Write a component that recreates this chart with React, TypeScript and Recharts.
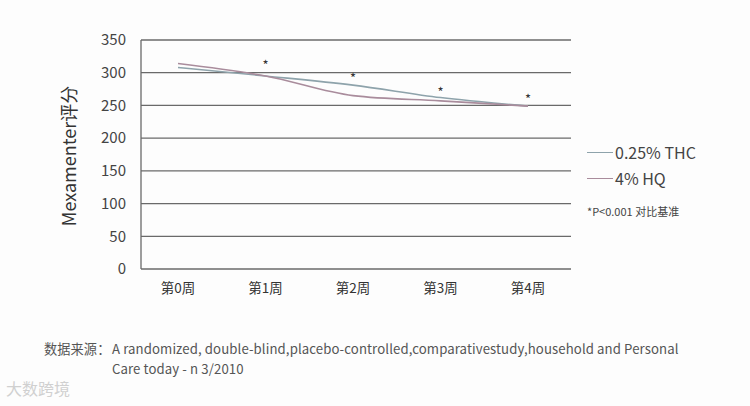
import { CartesianGrid, Line, LineChart, XAxis, YAxis } from "recharts";

const weeks = ["第0周", "第1周", "第2周", "第3周", "第4周"];
const thc = [308, 295, 281, 262, 249];
const hq = [314, 295, 265, 257, 249];
// height where the significance asterisk sits for each week (none at week 0)
const starLevels = [null, 314, 294, 272, 262];
const yTicks = [0, 50, 100, 150, 200, 250, 300, 350];

const data = weeks.map((week, i) => ({
  week,
  thc: thc[i],
  hq: hq[i],
  star: starLevels[i],
}));

const FONT = '"Noto Sans CJK SC", "Noto Sans", sans-serif';

const StarDot = (props: any) => {
  const { cx, cy, value } = props;
  if (value == null || cx == null || cy == null) return null;
  return (
    <text x={cx} y={cy + 6} textAnchor="middle" fontSize={13} fill="#333" fontFamily={FONT}>
      *
    </text>
  );
};

const LegendBox = () => (
  <div style={{ fontFamily: FONT, color: "#444" }}>
    <div style={{ display: "flex", alignItems: "center", height: 26, fontSize: 16 }}>
      <span style={{ width: 26, height: 0, borderTop: "1.5px solid #8ea3ab", marginRight: 2 }} />
      0.25% THC
    </div>
    <div style={{ display: "flex", alignItems: "center", height: 26, fontSize: 16 }}>
      <span style={{ width: 26, height: 0, borderTop: "1.5px solid #a98c9c", marginRight: 2 }} />
      4% HQ
    </div>
    <div style={{ fontSize: 11, marginTop: 12 }}>*P&lt;0.001 对比基准</div>
  </div>
);

const footStyle = {
  position: "absolute" as const,
  fontSize: 13.2,
  letterSpacing: 0.1,
  lineHeight: "15px",
  color: "#555",
  fontFamily: FONT,
  whiteSpace: "nowrap" as const,
};

export default function App() {
  return (
    <div style={{ position: "absolute", left: 0, top: 0, width: 750, height: 406, background: "#fdfdfd" }}>
      <LineChart
        width={750}
        height={406}
        data={data}
        margin={{ top: 40, right: 179, bottom: 117, left: 0 }}
      >
        <CartesianGrid vertical={false} stroke="#6a6a6a" strokeWidth={1.3} />
        <XAxis
          dataKey="week"
          axisLine={false}
          tickLine={false}
          padding={{ left: 37, right: 43 }}
          height={20}
          tick={{ fontSize: 13.5, fill: "#333", fontFamily: FONT }}
          dy={6}
        />
        <YAxis
          domain={[0, 350]}
          ticks={yTicks}
          width={141}
          tickLine={false}
          axisLine={{ stroke: "#6a6a6a", strokeWidth: 1.3 }}
          tick={{ fontSize: 15, fill: "#444", fontFamily: FONT }}
          dx={-7}
        />
        <Line
          dataKey="thc"
          name="0.25% THC"
          type="monotone"
          stroke="#8ea3ab"
          strokeWidth={1.6}
          dot={false}
          isAnimationActive={false}
        />
        <Line
          dataKey="hq"
          name="4% HQ"
          type="monotone"
          stroke="#a98c9c"
          strokeWidth={1.6}
          dot={false}
          isAnimationActive={false}
        />
        <Line
          dataKey="star"
          stroke="none"
          dot={<StarDot />}
          activeDot={false}
          legendType="none"
          isAnimationActive={false}
        />
      </LineChart>
      <div
        style={{
          position: "absolute",
          left: 68,
          top: 156,
          transform: "translate(-50%, -50%) rotate(-90deg)",
          whiteSpace: "nowrap",
          fontSize: 18,
          color: "#333",
          fontFamily: FONT,
        }}
      >
        Mexamenter评分
      </div>
      <div style={{ position: "absolute", left: 587, top: 139, width: 160 }}>
        <LegendBox />
      </div>
      <div style={{ ...footStyle, left: 44, top: 341 }}>数据来源：</div>
      <div style={{ ...footStyle, left: 112, top: 341 }}>
        A randomized, double-blind,placebo-controlled,comparativestudy,household and Personal
      </div>
      <div style={{ ...footStyle, left: 112, top: 361 }}>Care today - n 3/2010</div>
      <div
        style={{
          position: "absolute",
          left: 6,
          top: 376,
          fontSize: 16,
          color: "#d0d0d0",
          fontFamily: FONT,
        }}
      >
        大数跨境
      </div>
    </div>
  );
}
